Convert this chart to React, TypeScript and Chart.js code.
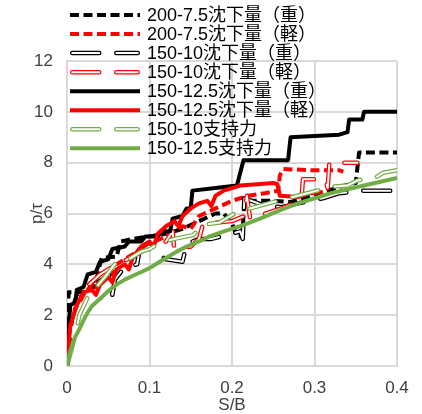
import React, { useEffect, useRef } from "react";
import { Chart, registerables } from "chart.js";

Chart.register(...registerables);

// ---- Data (S/B, p/τ) ----
const SERIES_NAMES = [
  "200-7.5沈下量（重）",
  "200-7.5沈下量（軽）",
  "150-10沈下量（重）",
  "150-10沈下量（軽）",
  "150-12.5沈下量（重）",
  "150-12.5沈下量（軽）",
  "150-10支持力",
  "150-12.5支持力",
];

const heavy200_75: [number, number][] = [
  [0, 0], [0.001, 1.7], [0.002, 2.9], [0.02, 2.9], [0.03, 3.0], [0.035, 3.3],
  [0.04, 4.0], [0.042, 4.25], [0.06, 4.3], [0.065, 4.9], [0.08, 5.0], [0.1, 5.1],
  [0.12, 5.2], [0.14, 5.4], [0.16, 5.7], [0.18, 6.0], [0.19, 6.0], [0.2, 5.6],
  [0.205, 5.2], [0.21, 5.1], [0.213, 5.4], [0.215, 6.5], [0.25, 6.5], [0.27, 6.45],
  [0.3, 6.7], [0.33, 7.05], [0.35, 7.2], [0.352, 7.8], [0.354, 8.4], [0.4, 8.4],
];

const light200_75: [number, number][] = [
  [0, 0], [0.002, 1.2], [0.005, 1.5], [0.008, 2.2], [0.015, 2.5], [0.02, 2.8],
  [0.03, 3.2], [0.035, 3.0], [0.04, 3.5], [0.05, 3.8], [0.055, 3.6], [0.06, 4.0],
  [0.07, 4.2], [0.08, 4.4], [0.085, 4.2], [0.09, 4.6], [0.1, 4.8], [0.12, 5.1],
  [0.14, 5.5], [0.15, 5.4], [0.16, 5.9], [0.18, 6.2], [0.2, 6.5], [0.22, 6.7],
  [0.24, 6.8], [0.256, 6.9], [0.258, 7.5], [0.262, 7.75], [0.3, 7.7], [0.33, 7.7],
  [0.335, 7.65],
];

const heavy150_10: [number, number][] = [
  [0, 0], [0.003, 1.0], [0.006, 2.0], [0.01, 2.6], [0.02, 3.0], [0.03, 3.3],
  [0.04, 3.5], [0.05, 3.7], [0.055, 2.8], [0.058, 3.4], [0.07, 3.9], [0.085, 4.0],
  [0.088, 4.6], [0.1, 4.6], [0.11, 4.4], [0.12, 4.2], [0.14, 4.1], [0.145, 4.8],
  [0.16, 5.0], [0.175, 5.0], [0.2, 5.2], [0.21, 5.3], [0.213, 5.0], [0.215, 6.6],
  [0.24, 6.3], [0.26, 6.25], [0.28, 6.4], [0.31, 6.6], [0.33, 6.8], [0.36, 6.9],
  [0.4, 6.9],
];

const light150_10: [number, number][] = [
  [0, 0], [0.003, 1.5], [0.006, 2.3], [0.012, 2.6], [0.02, 3.0], [0.03, 3.3],
  [0.04, 3.6], [0.06, 4.0], [0.08, 4.3], [0.1, 4.7], [0.12, 4.9], [0.128, 5.3],
  [0.13, 4.6], [0.15, 4.7], [0.16, 5.0], [0.165, 5.6], [0.2, 5.7], [0.215, 5.9],
  [0.218, 6.7], [0.222, 5.8], [0.26, 6.2], [0.284, 6.5], [0.286, 7.35], [0.313, 7.35],
  [0.316, 7.0], [0.318, 8.0], [0.352, 8.0],
];

const heavy150_125: [number, number][] = [
  [0, 0], [0.002, 1.5], [0.004, 2.4], [0.01, 2.5], [0.012, 3.0], [0.02, 3.1],
  [0.025, 3.6], [0.035, 3.7], [0.04, 4.1], [0.05, 4.2], [0.055, 4.6], [0.07, 4.7],
  [0.075, 4.9], [0.09, 4.9], [0.095, 5.1], [0.11, 5.1], [0.115, 5.3], [0.125, 5.3],
  [0.128, 5.8], [0.14, 5.9], [0.145, 6.2], [0.15, 6.2], [0.152, 6.9], [0.18, 7.0],
  [0.206, 7.1], [0.21, 7.6], [0.214, 8.1], [0.268, 8.1], [0.271, 9.0], [0.33, 9.1],
  [0.34, 9.2], [0.342, 9.7], [0.358, 9.7], [0.36, 10.0], [0.4, 10.0],
];

const light150_125: [number, number][] = [
  [0, 0], [0.002, 0.8], [0.004, 1.6], [0.008, 2.0], [0.012, 2.4], [0.02, 2.9],
  [0.03, 3.0], [0.035, 2.8], [0.04, 3.2], [0.05, 3.5], [0.055, 3.3], [0.06, 3.8],
  [0.07, 4.0], [0.075, 3.8], [0.08, 4.3], [0.09, 4.7], [0.1, 4.9], [0.105, 4.7],
  [0.11, 5.2], [0.12, 5.5], [0.13, 5.7], [0.135, 5.5], [0.14, 5.9], [0.15, 6.2],
  [0.16, 6.4], [0.17, 6.5], [0.175, 6.3], [0.18, 6.7], [0.19, 6.9], [0.2, 7.0],
  [0.21, 7.1], [0.25, 7.2], [0.255, 7.15], [0.258, 6.7], [0.28, 6.65], [0.295, 6.8],
  [0.31, 6.85],
];

const support150_10: [number, number][] = [
  [0, 0], [0.01, 1.2], [0.015, 2.0], [0.025, 2.7], [0.046, 3.5], [0.06, 4.1],
  [0.075, 4.2], [0.09, 4.5], [0.1, 4.6], [0.113, 4.85], [0.13, 5.0], [0.153, 5.15],
  [0.165, 5.55], [0.185, 5.65], [0.206, 6.05], [0.222, 6.2], [0.25, 6.45], [0.303, 6.9],
  [0.32, 7.05], [0.34, 7.1], [0.352, 7.3], [0.376, 7.45], [0.383, 7.6], [0.4, 7.7],
];

const support150_125: [number, number][] = [
  [0, 0], [0.003, 0.45], [0.006, 0.8], [0.01, 1.15], [0.015, 1.45], [0.02, 1.8],
  [0.025, 2.1], [0.03, 2.35], [0.035, 2.5], [0.042, 2.7], [0.05, 2.95], [0.06, 3.2],
  [0.07, 3.4], [0.08, 3.55], [0.09, 3.7], [0.1, 3.85], [0.11, 4.05], [0.12, 4.25],
  [0.133, 4.5], [0.145, 4.7], [0.16, 4.9], [0.173, 5.1], [0.19, 5.3], [0.21, 5.5],
  [0.234, 5.8], [0.26, 6.15], [0.28, 6.4], [0.3, 6.6], [0.32, 6.8], [0.34, 6.95],
  [0.36, 7.1], [0.38, 7.25], [0.4, 7.4],
];

const SERIES_DATA = [
  heavy200_75, light200_75, heavy150_10, light150_10,
  heavy150_125, light150_125, support150_10, support150_125,
];

const X_MIN = 0, X_MAX = 0.4, X_STEP = 0.1;
const Y_MIN = 0, Y_MAX = 12, Y_STEP = 2;

// ---- Styles ----
type Style = { color: string; width: number; dash: number[]; outlined: boolean };
const SHORT_DASH = [9, 4.5];
const LONG_DASH = [27, 17];
const STYLES: Style[] = [
  { color: "#000000", width: 4, dash: SHORT_DASH, outlined: false },
  { color: "#FF0000", width: 4, dash: SHORT_DASH, outlined: false },
  { color: "#000000", width: 4.5, dash: LONG_DASH, outlined: true },
  { color: "#FF0000", width: 4.5, dash: LONG_DASH, outlined: true },
  { color: "#000000", width: 4, dash: [], outlined: false },
  { color: "#FF0000", width: 4, dash: [], outlined: false },
  { color: "#70AD47", width: 4.5, dash: LONG_DASH, outlined: true },
  { color: "#70AD47", width: 4, dash: [], outlined: false },
];
const INNER_WIDTH = 2;
const FONT = '"Liberation Sans", Arial, "Noto Sans CJK JP", sans-serif';

const legendPlugin = {
  id: "overlayLegend",
  afterDraw(chart: any) {
    const ctx: CanvasRenderingContext2D = chart.ctx;
    ctx.save();
    STYLES.forEach((st, i) => {
      const y = 15 + i * 19.05;
      const x0 = 70, x1 = 140;
      const strokes = st.outlined
        ? [{ c: st.color, w: st.width }, { c: "#ffffff", w: INNER_WIDTH }]
        : [{ c: st.color, w: st.width }];
      strokes.forEach((s) => {
        ctx.beginPath();
        ctx.setLineDash(st.dash);
        ctx.lineCap = st.outlined ? "round" : "butt";
        ctx.strokeStyle = s.c;
        ctx.lineWidth = s.w;
        const pad = st.outlined ? st.width / 2 : 0;
        ctx.moveTo(x0 + pad, y);
        ctx.lineTo(x1 - pad, y);
        ctx.stroke();
      });
      ctx.setLineDash([]);
      ctx.fillStyle = "#000000";
      ctx.font = `18px ${FONT}`;
      ctx.textBaseline = "middle";
      ctx.textAlign = "left";
      ctx.fillText(SERIES_NAMES[i], 147, y + 1);
    });
    ctx.restore();
  },
};

export default function App() {
  const ref = useRef<HTMLCanvasElement | null>(null);

  useEffect(() => {
    if (!ref.current) return;
    const n = SERIES_DATA.length;
    const datasets: any[] = [];
    SERIES_DATA.forEach((series, i) => {
      const st = STYLES[i];
      const data = series.map(([x, y]) => ({ x, y }));
      const base = (n - i) * 2;
      datasets.push({
        label: SERIES_NAMES[i],
        data,
        borderColor: st.color,
        backgroundColor: st.color,
        borderWidth: st.width,
        borderDash: st.dash,
        borderCapStyle: st.outlined ? "round" : "butt",
        borderJoinStyle: "round",
        pointRadius: 0,
        tension: 0,
        fill: false,
        order: base,
      });
      if (st.outlined) {
        datasets.push({
          label: SERIES_NAMES[i] + " inner",
          data,
          borderColor: "#ffffff",
          borderWidth: INNER_WIDTH,
          borderDash: st.dash,
          borderCapStyle: "round",
          borderJoinStyle: "round",
          pointRadius: 0,
          tension: 0,
          fill: false,
          order: base - 1,
        });
      }
    });

    const tickFont = { family: FONT, size: 17 };
    const chart = new Chart(ref.current, {
      type: "line",
      data: { datasets },
      options: {
        responsive: false,
        animation: false,
        layout: { padding: { top: 61, right: 25, bottom: 0, left: 0 } },
        plugins: { legend: { display: false }, tooltip: { enabled: false } },
        scales: {
          x: {
            type: "linear",
            min: X_MIN,
            max: X_MAX,
            ticks: {
              stepSize: X_STEP,
              font: tickFont,
              color: "#404040",
              padding: 12,
              maxRotation: 0,
              callback: (v: any) => String(Math.round(Number(v) * 10) / 10),
            },
            grid: { color: "#d9d9d9", lineWidth: 2, drawTicks: false },
            border: { color: "#d9d9d9", width: 2 },
            title: {
              display: true,
              text: "S/B",
              color: "#404040",
              font: { family: FONT, size: 17, lineHeight: 1 },
              padding: { top: 0, bottom: 0 },
            },
            afterFit: (s: any) => { s.height = 48; },
          },
          y: {
            type: "linear",
            min: Y_MIN,
            max: Y_MAX,
            ticks: { stepSize: Y_STEP, font: tickFont, color: "#404040", padding: 14 },
            grid: { color: "#d9d9d9", lineWidth: 2, drawTicks: false },
            border: { color: "#d9d9d9", width: 2 },
            title: {
              display: true,
              text: "p/τ",
              color: "#404040",
              font: { family: FONT, size: 17, lineHeight: 1 },
              padding: { top: 28.5, bottom: 0 },
            },
            afterFit: (s: any) => { s.width = 67; },
          },
        },
      },
      plugins: [legendPlugin],
    } as any);
    return () => chart.destroy();
  }, []);

  return (
    <div style={{ position: "fixed", left: 0, top: 0, width: 422, height: 414, background: "#fff" }}>
      <canvas ref={ref} width={422} height={414} style={{ display: "block" }} />
    </div>
  );
}
